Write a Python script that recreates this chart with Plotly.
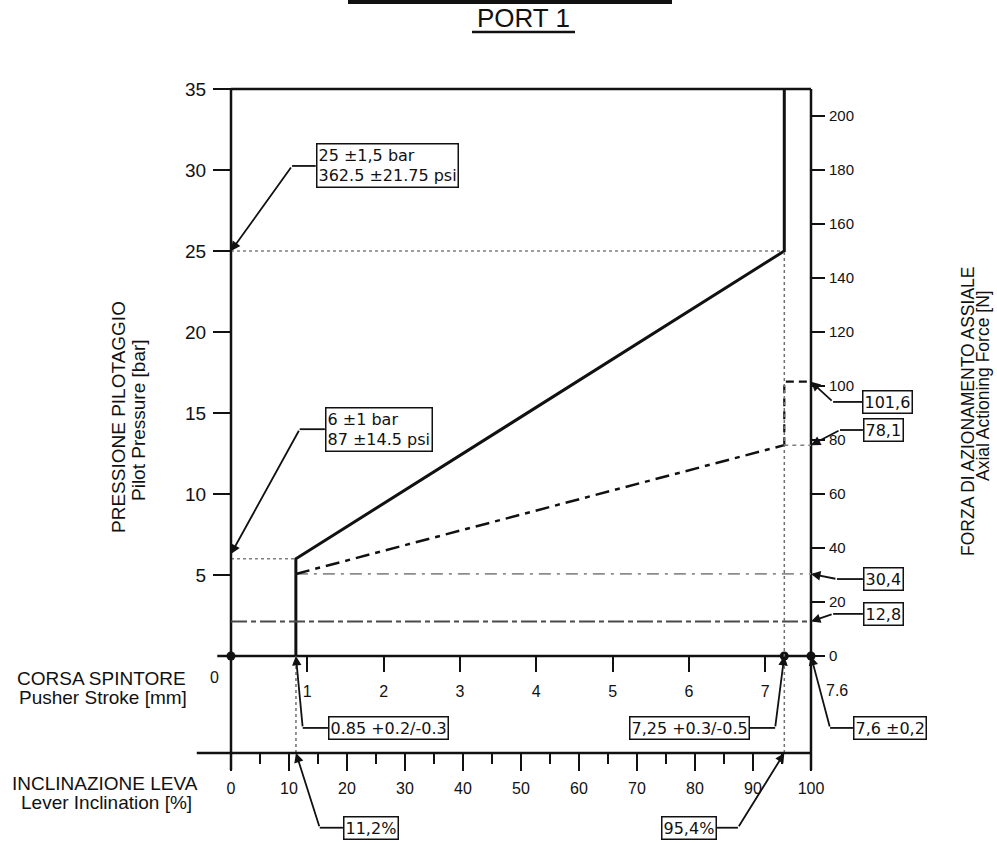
import plotly.graph_objects as go

# ---------------- data ----------------
pressure_ticks = [5, 10, 15, 20, 25, 30, 35]                      # bar
force_ticks = [0, 20, 40, 60, 80, 100, 120, 140, 160, 180, 200]   # N
stroke_ticks = [1, 2, 3, 4, 5, 6, 7]                              # mm
lever_ticks = [0, 10, 20, 30, 40, 50, 60, 70, 80, 90, 100]        # %
lever_minor_ticks = [5, 15, 25, 35, 45, 55, 65, 75, 85, 95]

pilot_stroke = [0.85, 0.85, 7.25, 7.25]   # mm
pilot_pressure = [0, 6, 25, 35]           # bar
force_stroke = [0.85, 7.25]               # mm
axial_force = [30.4, 78.1]                # N
peak_stroke = [7.25, 7.25, 7.6]           # mm
peak_force = [78.1, 101.6, 101.6]         # N

stroke_start = 0.85
stroke_end = 7.25
stroke_max = 7.6
pressure_start = 6
pressure_end = 25
pressure_max = 35
force_max = 210
force_start = 30.4
force_end = 78.1
force_peak = 101.6
force_min_level = 12.8
lever_start = 11.2
lever_end = 95.4
lever_max = 100

# ---------------- layout geometry (page pixels) ----------------
W, H = 997, 843                  # figure size
PX_X0, PX_X1 = 231, 811          # stroke 0 / stroke max columns
PX_ZERO, PX_TOP = 656, 89        # 0 bar / 35 bar rows
PX_LEVER = 753                   # lever axis row
PX_AXIS_BOTTOM = 770             # lower end of the vertical frame lines

sx = (PX_X1 - PX_X0) / stroke_max
sl = (PX_X1 - PX_X0) / lever_max
sy = (PX_ZERO - PX_TOP) / pressure_max
f_per_bar = force_max / pressure_max

x_range = [-PX_X0 / sx, (W - PX_X0) / sx]
lever_range = [-PX_X0 / sl, (W - PX_X0) / sl]
y_range = [-(H - PX_ZERO) / sy, PX_ZERO / sy]
y2_range = [v * f_per_bar for v in y_range]

lever_level = -(PX_LEVER - PX_ZERO) / sy
axis_bottom = -(PX_AXIS_BOTTOM - PX_ZERO) / sy

AX_FONT = "Liberation Sans, Arial, sans-serif"
BOX_FONT = "DejaVu Sans, Verdana, sans-serif"
INK = "#111111"

fig = go.Figure()


def line(x, y, xa="x", ya="y", color=INK, width=2.5, dash="solid"):
    fig.add_trace(go.Scatter(
        x=x, y=y, xaxis=xa, yaxis=ya, mode="lines",
        line=dict(color=color, width=width, dash=dash),
        hoverinfo="skip", showlegend=False))


# guide lines
DOT = "3px,3px"
line([0, stroke_end], [pressure_end, pressure_end], color="#808080", width=1.5, dash=DOT)
line([0, stroke_start], [pressure_start, pressure_start], color="#808080", width=1.5, dash=DOT)
line([lever_end, lever_end], [lever_level, pressure_end], xa="x2", color="#707070", width=1.5, dash=DOT)
line([lever_start, lever_start], [lever_level, 0], xa="x2", color="#707070", width=1.5, dash=DOT)
line([stroke_start, stroke_max], [force_start, force_start], ya="y2",
     color="#8c8c8c", width=1.6, dash="12px,6px,3px,6px")
line([0, stroke_max], [force_min_level, force_min_level], ya="y2",
     color="#4a4a4a", width=2, dash="16px,4px,5px,4px")
line([stroke_end, stroke_max], [force_end, force_end], ya="y2",
     color="#808080", width=1.5, dash="4px,4px")

# force curve (dash-dot) and peak
line(force_stroke, axial_force, ya="y2", width=2.5, dash="14px,6px,5px,6px")
line(peak_stroke, peak_force, ya="y2", width=2.2, dash="8px,5px")

# pilot pressure curve
line(pilot_stroke, pilot_pressure, width=3)

# frame / axis lines
line([0, 0], [axis_bottom, pressure_max], width=2.5)
line([stroke_max, stroke_max], [axis_bottom, pressure_max], width=2.5)
line([0, stroke_max], [pressure_max, pressure_max], width=2.5)
line([-0.18, stroke_max], [0, 0], width=2.5)
line([-5.9, lever_max], [lever_level, lever_level], xa="x2", width=2.5)

# junction dots
fig.add_trace(go.Scatter(
    x=[0, stroke_end, stroke_max], y=[0, 0, 0], mode="markers",
    marker=dict(color=INK, size=9), hoverinfo="skip", showlegend=False))

# ---------------- callouts ----------------
callouts = [
    ("25 ±1,5 bar<br>362.5 ±21.75 psi", "x", "y", (0, pressure_end), (0.80, 30.25), 1.11, "left"),
    ("6 ±1 bar<br>87 ±14.5 psi", "x", "y", (0, pressure_start + 0.3), (0.90, 14.0), 1.23, "left"),
    ("101,6", "x", "y2", (stroke_max, force_peak), (7.89, 94.1), 8.27, "left"),
    ("78,1", "x", "y2", (stroke_max, force_end), (7.98, 83.7), 8.28, "left"),
    ("30,4", "x", "y2", (stroke_max, force_start), (7.94, 28.5), 8.28, "left"),
    ("12,8", "x", "y2", (stroke_max, force_min_level), (7.89, 15.6), 8.28, "left"),
    ("0.85 +0.2/-0.3", "x", "y", (stroke_start, 0), (0.94, -4.44), 1.27, "left"),
    ("7,25 +0.3/-0.5", "x", "y", (stroke_end, 0), (7.13, -4.44), 6.80, "right"),
    ("7,6 ±0,2", "x", "y", (stroke_max, 0), (7.85, -4.44), 8.15, "left"),
    ("11,2%", "x2", "y", (lever_start, lever_level), (15.3, -10.6), 19.3, "left"),
    ("95,4%", "x2", "y", (lever_end, lever_level), (87.4, -10.6), 83.8, "right"),
]

annotations = []
for text, xa, ya, tip, knee, box_x, side in callouts:
    line([knee[0], box_x], [knee[1], knee[1]], xa=xa, ya=ya, width=1.8)
    annotations.append(dict(
        x=tip[0], y=tip[1], xref=xa, yref=ya, ax=knee[0], ay=knee[1],
        axref=xa, ayref=ya, text="", showarrow=True, arrowhead=2,
        arrowsize=1.05, arrowwidth=1.8, arrowcolor=INK, standoff=0))
    annotations.append(dict(
        x=box_x, y=knee[1], xref=xa, yref=ya, text=text, showarrow=False,
        xanchor=side, yanchor="middle", align="left",
        font=dict(family=BOX_FONT, size=16, color=INK),
        bordercolor=INK, borderwidth=1.5, borderpad=1, bgcolor="white"))

# stroke end labels
annotations.append(dict(x=-0.21, y=-1.3, xref="x", yref="y", text="0", showarrow=False,
                        font=dict(family=AX_FONT, size=16, color=INK)))
annotations.append(dict(x=7.94, y=-2.1, xref="x", yref="y", text="7.6", showarrow=False,
                        font=dict(family=AX_FONT, size=16, color=INK)))


# axis titles (positions given in page pixels)
def ptext(text, px, py, size, angle=0, xanchor="center"):
    annotations.append(dict(x=px / W, y=1 - py / H, xref="paper", yref="paper",
                            text=text, showarrow=False, textangle=angle, xanchor=xanchor,
                            yanchor="middle", font=dict(family=AX_FONT, size=size, color=INK)))


ptext("PRESSIONE PILOTAGGIO", 118, 417, 19, -90)
ptext("Pilot Pressure [bar]", 139, 420, 19, -90)
ptext("FORZA DI AZIONAMENTO ASSIALE", 968, 412, 17.5, -90)
ptext("Axial Actioning Force [N]", 983, 386, 17.5, -90)
ptext("CORSA SPINTORE", 101, 678, 19)
ptext("Pusher Stroke [mm]", 103, 697, 19)
ptext("INCLINAZIONE LEVA", 105, 783, 19)
ptext("Lever Inclination [%]", 106, 802, 19)
ptext("PORT 1", 523, 18, 26)


def pl(x0, x1, y, width):
    return dict(type="line", xref="paper", yref="paper", x0=x0 / W, x1=x1 / W,
                y0=1 - y / H, y1=1 - y / H, line=dict(color=INK, width=width))


shapes = [pl(472, 575, 32, 2.5), pl(348, 672, 2, 4)]

common = dict(showgrid=False, zeroline=False, showline=False, automargin=False,
              fixedrange=True, tickmode="array", ticks="outside", tickwidth=2,
              tickcolor=INK)

fig.update_layout(
    width=W, height=H, margin=dict(l=0, r=0, t=0, b=0, pad=0),
    paper_bgcolor="white", plot_bgcolor="white", showlegend=False,
    annotations=annotations, shapes=shapes,
    xaxis=dict(range=x_range, anchor="free", position=(H - PX_ZERO) / H, side="bottom",
               tickvals=stroke_ticks, ticklen=15, ticklabelstandoff=6,
               tickfont=dict(family=AX_FONT, size=16, color=INK), **common),
    xaxis2=dict(range=lever_range, overlaying="x", anchor="free",
                position=(H - PX_LEVER) / H, side="bottom",
                tickvals=lever_ticks, ticklen=17, ticklabelstandoff=4,
                minor=dict(tickvals=lever_minor_ticks, ticks="outside", ticklen=10,
                           tickwidth=2, tickcolor=INK),
                tickfont=dict(family=AX_FONT, size=16, color=INK), **common),
    yaxis=dict(range=y_range, anchor="free", position=PX_X0 / W, side="left",
               tickvals=pressure_ticks, ticklen=18, ticklabelstandoff=3,
               tickfont=dict(family=AX_FONT, size=19, color=INK), **common),
    yaxis2=dict(range=y2_range, overlaying="y", anchor="free", position=PX_X1 / W,
                side="right", tickvals=force_ticks, ticklen=13, ticklabelstandoff=1,
                tickfont=dict(family=AX_FONT, size=15, color=INK), **common),
)

# remove the default page margin so the figure fills the window exactly
fig.write_html("out.html", config={"displayModeBar": False},
               post_script="document.body.style.margin='0';document.body.style.overflow='hidden';")
